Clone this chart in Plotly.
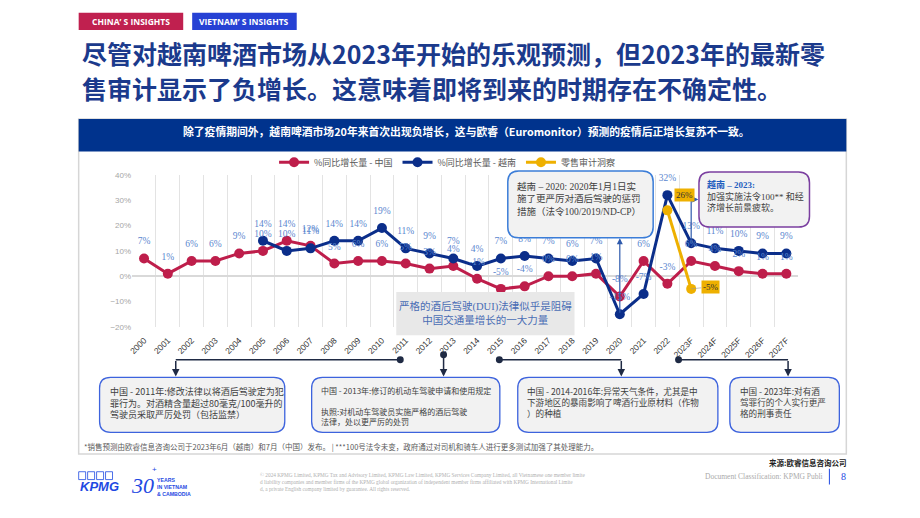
import plotly.graph_objects as go

# ---------------- data ----------------
years = ["2000", "2001", "2002", "2003", "2004", "2005", "2006", "2007", "2008", "2009",
         "2010", "2011", "2012", "2013", "2014", "2015", "2016", "2017", "2018", "2019",
         "2020", "2021", "2022", "2023F", "2024F", "2025F", "2026F", "2027F"]
china_growth = [7, 1, 6, 6, 9, 10, 14, 12, 5, 6, 6, 5, 3, 4, -1, -5, -4, 0, 0, 1, -8, 6, -3,
                6, 4, 2, 1, 1]
vietnam_years = years[5:]
vietnam_growth = [14, 10, 11, 14, 14, 19, 11, 9, 7, 4, 7, 8, 7, 6, 7, -15, -7, 32,
                  13, 11, 10, 9, 9]
audit_years = ["2022", "2023F"]
audit_growth = [26, -5]

series_names = ["%同比增长量 - 中国", "%同比增长量 - 越南", "零售审计洞察"]

# ---------------- helpers ----------------
W, H = 920, 518
def X(px):
    return px / W
def Y(py):
    return 1 - py / H

CJK = "Noto Sans CJK SC"
SERIF = "Liberation Serif, Noto Sans CJK SC"
RED = "#BE1E4B"
BLUE = "#0B2E8A"
GOLD = "#EEB000"
LBL = "#5B87CF"

def rrect(x0, y0, x1, y1, r):
    rx, ry = r / W, r / H
    a, b, c, d = X(x0), Y(y0), X(x1), Y(y1)  # b top, d bottom
    return (f"M{a+rx},{b} L{c-rx},{b} Q{c},{b} {c},{b-ry} L{c},{d+ry} Q{c},{d} {c-rx},{d} "
            f"L{a+rx},{d} Q{a},{d} {a},{d+ry} L{a},{b-ry} Q{a},{b} {a+rx},{b} Z")

def note(text, x, y, xa="center", ya="middle", **kw):
    d = dict(text=text, x=x, y=y, xref="paper", yref="paper", xanchor=xa, yanchor=ya, showarrow=False)
    d.update(kw)
    return d

fig = go.Figure()

# lines
fig.add_trace(go.Scatter(x=years, y=china_growth, mode="lines+markers", name=series_names[0],
                         line=dict(color=RED, width=3), marker=dict(size=10, color=RED)))
fig.add_trace(go.Scatter(x=vietnam_years, y=vietnam_growth, mode="lines+markers", name=series_names[1],
                         line=dict(color=BLUE, width=3), marker=dict(size=10, color=BLUE)))
fig.add_trace(go.Scatter(x=audit_years, y=audit_growth, mode="lines+markers", name=series_names[2],
                         line=dict(color=GOLD, width=3), marker=dict(size=10, color=GOLD)))
# data labels (invisible markers push the text above the points)
for xs, ys in [(years, china_growth), (vietnam_years, vietnam_growth)]:
    fig.add_trace(go.Scatter(x=xs, y=ys, mode="markers+text", showlegend=False, hoverinfo="skip",
                             marker=dict(size=17, opacity=0),
                             text=[f"{v}%" for v in ys], textposition="top center",
                             textfont=dict(family=SERIF, size=9.5, color=LBL), cliponaxis=False))

shapes = []
annotations = []

# header tags
shapes.append(dict(type="rect", xref="paper", yref="paper", x0=X(75), x1=X(180), y0=Y(26.5), y1=Y(9),
                   fillcolor="#C0204F", line=dict(width=0), layer="below"))
shapes.append(dict(type="rect", xref="paper", yref="paper", x0=X(189), x1=X(294), y0=Y(26.5), y1=Y(9),
                   fillcolor="#2641D4", line=dict(width=0), layer="below"))
annotations.append(note("<b>CHINA’ S INSIGHTS</b>", X(127.5), Y(18),
                        font=dict(family="Open Sans", size=8.5, color="white")))
annotations.append(note("<b>VIETNAM’ S INSIGHTS</b>", X(241.5), Y(18),
                        font=dict(family="Open Sans", size=8.5, color="white")))

# title
title_lines = ["尽管对越南啤酒市场从2023年开始的乐观预测，但2023年的最新零",
               "售审计显示了负增长。这意味着即将到来的时期存在不确定性。"]
for i, t in enumerate(title_lines):
    annotations.append(note(t, X(76), Y(49.5 + 36 * i), xa="left",
                            font=dict(family=CJK, size=25, color="#1B3A8C", weight=700)))

# chart container and header band
shapes.append(dict(type="rect", xref="paper", yref="paper", x0=X(75), x1=X(846), y0=Y(458), y1=Y(117),
                   fillcolor="white", line=dict(color="#D6D6D6", width=1.5), layer="below"))
shapes.append(dict(type="rect", xref="paper", yref="paper", x0=X(75), x1=X(846), y0=Y(150), y1=Y(117),
                   fillcolor="#00338D", line=dict(width=0), layer="below"))
annotations.append(note("除了疫情期间外，越南啤酒市场20年来首次出现负增长，这与欧睿（Euromonitor）预测的疫情后正增长复苏不一致。",
                        X(465), Y(129), font=dict(family=CJK, size=10.8, color="white", weight=700)))

# gray note inside chart
shapes.append(dict(type="rect", xref="paper", yref="paper", x0=X(394), x1=X(573), y0=Y(337), y1=Y(293),
                   fillcolor="#E8E8E8", line=dict(width=0), layer="above"))
annotations.append(note("严格的酒后驾驶(DUI)法律似乎是阻碍<br>中国交通量增长的一大力量", X(483.5), Y(314),
                        font=dict(family=SERIF, size=10.5, color="#4A6DB5")))

# callout Vietnam 2020
shapes.append(dict(type="path", xref="paper", yref="paper", path=rrect(506, 170, 652, 238, 11),
                   fillcolor="#F2F2F2", line=dict(color="#3B7DD8", width=1.5), layer="above"))
annotations.append(note("越南 – 2020: 2020年1月1日实<br>施了更严厉对酒后驾驶的惩罚<br>措施（法令100/2019/ND-CP）",
                        X(513), Y(178), xa="left", ya="top", align="left",
                        font=dict(family=SERIF, size=9.5, color="#404040")))
i2020 = years.index("2020")
annotations.append(dict(text="", x=i2020, y=15.0, xref="x", yref="y", ax=i2020,
                        ay=vietnam_growth[vietnam_years.index("2020")],
                        axref="x", ayref="y", showarrow=True, arrowhead=2, arrowsize=1, arrowwidth=1.2,
                        arrowcolor="#2E5AAC"))

# callout Vietnam 2023
shapes.append(dict(type="path", xref="paper", yref="paper", path=rrect(698, 171, 809, 227, 11),
                   fillcolor="#F2F2F2", line=dict(color="#7B3FA0", width=1.5), layer="above"))
annotations.append(note("<span style='color:#1F5FBF'><b>越南 – 2023:</b></span><br>加强实施法令100** 和经<br>济增长前景疲软。",
                        X(704), Y(176), xa="left", ya="top", align="left",
                        font=dict(family=SERIF, size=9, color="#404040")))
i2023 = years.index("2023F")
shapes.append(dict(type="line", xref="x", yref="y", x0=i2023, x1=i2023,
                   y0=vietnam_growth[vietnam_years.index("2023F")], y1=30.3,
                   line=dict(color="#2E5AAC", width=1.2)))
annotations.append(dict(text="", x=i2023 + 0.3, y=30.3, xref="x", yref="y", ax=i2023, ay=30.3,
                        axref="x", ayref="y", showarrow=True, arrowhead=2, arrowsize=1, arrowwidth=1.2,
                        arrowcolor="#2E5AAC"))

# retail audit labels
for yr, v, dx, dy, col in [(audit_years[0], audit_growth[0], 17, -15, "rgba(0,0,0,0)"),
                           (audit_years[1], audit_growth[1], 19, -2, "#999999")]:
    annotations.append(dict(text=f"{v}%", x=years.index(yr), y=v, xref="x", yref="y",
                            ax=dx, ay=dy, showarrow=True, arrowhead=0, arrowwidth=0.6, arrowcolor=col,
                            bgcolor=GOLD, borderpad=1, xanchor="center", yanchor="middle",
                            font=dict(family=SERIF, size=9, color="#333333")))

# bottom event boxes
BOXC = "#3D63DD"
CON = "#1F2A44"
boxes = [
    (96, 282, "中国 - 2011年:修改法律以将酒后驾驶定为犯<br>罪行为。对酒精含量超过80毫克/100毫升的<br>驾驶员采取严厉处罚（包括监禁）", 9, 104),
    (309, 498, "中国 - 2013年:修订的机动车驾驶申请和使用规定<br> <br>执照:对机动车驾驶员实施严格的酒后驾驶<br>法律，处以更严厉的处罚", 8, 316),
    (516, 717, "中国 - 2014-2016年:异常天气条件，尤其是中<br>下游地区的暴雨影响了啤酒行业原材料（作物<br>）的种植", 8.6, 523),
    (729, 839, "中国 - 2023年:对有酒<br>驾罪行的个人实行更严<br>格的刑事责任", 8.6, 737),
]
for x0, x1, txt, fs, tx in boxes:
    shapes.append(dict(type="path", xref="paper", yref="paper", path=rrect(x0, 380, x1, 436, 11),
                       fillcolor="#F2F2F2", line=dict(color=BOXC, width=1.3), layer="below"))
    annotations.append(note(txt, X(tx), Y(386), xa="left", ya="top", align="left",
                            font=dict(family=CJK, size=fs, color="#404040")))

# connectors: (dot x, dot y, arrow x)
connectors = [(398, 362, 172.5), (441.5, 357, 441.5), (497.5, 362, 620), (677.5, 362, 787.5)]
for dx, dy, axp in connectors:
    shapes.append(dict(type="circle", xref="paper", yref="paper", x0=X(dx - 3.5), x1=X(dx + 3.5),
                       y0=Y(dy + 3.5), y1=Y(dy - 3.5), fillcolor=CON, line=dict(width=0)))
    if axp != dx:
        shapes.append(dict(type="line", xref="paper", yref="paper", x0=X(dx), x1=X(axp), y0=Y(dy), y1=Y(dy),
                           line=dict(color=CON, width=1.5)))
    annotations.append(dict(text="", x=X(axp), y=Y(379), xref="paper", yref="paper", ax=0, ay=-(379 - dy),
                            showarrow=True, arrowhead=2, arrowsize=1, arrowwidth=1.5, arrowcolor=CON))

# footnote
annotations.append(note("*销售预测由欧睿信息咨询公司于2023年6月（越南）和7月（中国）发布。 | ***100号法令未变，政府通过对司机和骑车人进行更多测试加强了其处理能力。",
                        X(78), Y(450), xa="left", font=dict(family=CJK, size=7.5, color="#595959")))

# footer
annotations.append(note("<b>来源:欧睿信息咨询公司</b>", X(848), Y(467), xa="right",
                        font=dict(family=CJK, size=7.5, color="#222222")))
annotations.append(note("Document Classification: KPMG Publi", X(825), Y(481), xa="right",
                        font=dict(family="Liberation Serif", size=7.5, color="#AAAAAA")))
shapes.append(dict(type="line", xref="paper", yref="paper", x0=X(829), x1=X(829), y0=Y(489), y1=Y(473),
                   line=dict(color="#1E49E2", width=1)))
annotations.append(note("8", X(843), Y(481), font=dict(family="Liberation Serif", size=10, color="#1E49E2")))
legal = ("© 2024 KPMG Limited, KPMG Tax and Advisory Limited, KPMG Law Limited, KPMG Services Company Limited, all Vietnamese one member limite<br>"
         "d liability companies and member firms of the KPMG global organization of independent member firms affiliated with KPMG International Limite<br>"
         "d, a private English company limited by guarantee. All rights reserved.")
annotations.append(note(legal, X(255), Y(474), xa="left", ya="top", align="left",
                        font=dict(family="Liberation Serif", size=5.3, color="#B0B0B0")))
# KPMG logo
for k in range(4):
    shapes.append(dict(type="rect", xref="paper", yref="paper", x0=X(75 + 9 * k), x1=X(82 + 9 * k),
                       y0=Y(484), y1=Y(476), line=dict(color="#1E49E2", width=0.8)))
annotations.append(note("<b><i>KPMG</i></b>", X(74), Y(491), xa="left",
                        font=dict(family="Liberation Sans", size=13, color="#1E49E2")))
annotations.append(note("<i>30</i>", X(126), Y(490), xa="left",
                        font=dict(family="Liberation Serif", size=22, color="#1E49E2")))
annotations.append(note("+", X(151), Y(474), font=dict(family="Liberation Sans", size=8, color="#1E49E2")))
annotations.append(note("<b>YEARS<br>IN VIETNAM<br>& CAMBODIA</b>", X(152), Y(492), xa="left", align="left",
                        font=dict(family="Liberation Sans", size=5.2, color="#1E49E2")))

fig.update_layout(
    width=W, height=H, margin=dict(l=0, r=0, t=0, b=0),
    paper_bgcolor="white", plot_bgcolor="rgba(0,0,0,0)",
    shapes=shapes, annotations=annotations,
    showlegend=True,
    legend=dict(orientation="h", x=X(445), xanchor="center", y=Y(161), yanchor="middle",
                font=dict(family=CJK, size=9, color="#595959"), itemwidth=30, bgcolor="rgba(0,0,0,0)"),
    xaxis=dict(type="category", categoryorder="array", categoryarray=years,
               range=[-0.5, len(years) - 0.5], autorange=False,
               domain=[X(128.7), X(797.7)], tickson="boundaries", showgrid=True, gridcolor="#E3E3E3",
               gridwidth=1, tickangle=-45, ticks="", showline=False, ticklabelstandoff=6,
               tickfont=dict(family="Liberation Sans", size=8.5, color="#333333")),
    yaxis=dict(range=[-20, 40], autorange=False, dtick=10, ticksuffix="%", showgrid=False, zeroline=True,
               zerolinecolor="#D9D9D9", zerolinewidth=1.5, domain=[Y(328.6), Y(173.9)],
               tickfont=dict(family="Liberation Sans", size=8, color="#A6A6A6")),
)

fig.write_html("out.html")
